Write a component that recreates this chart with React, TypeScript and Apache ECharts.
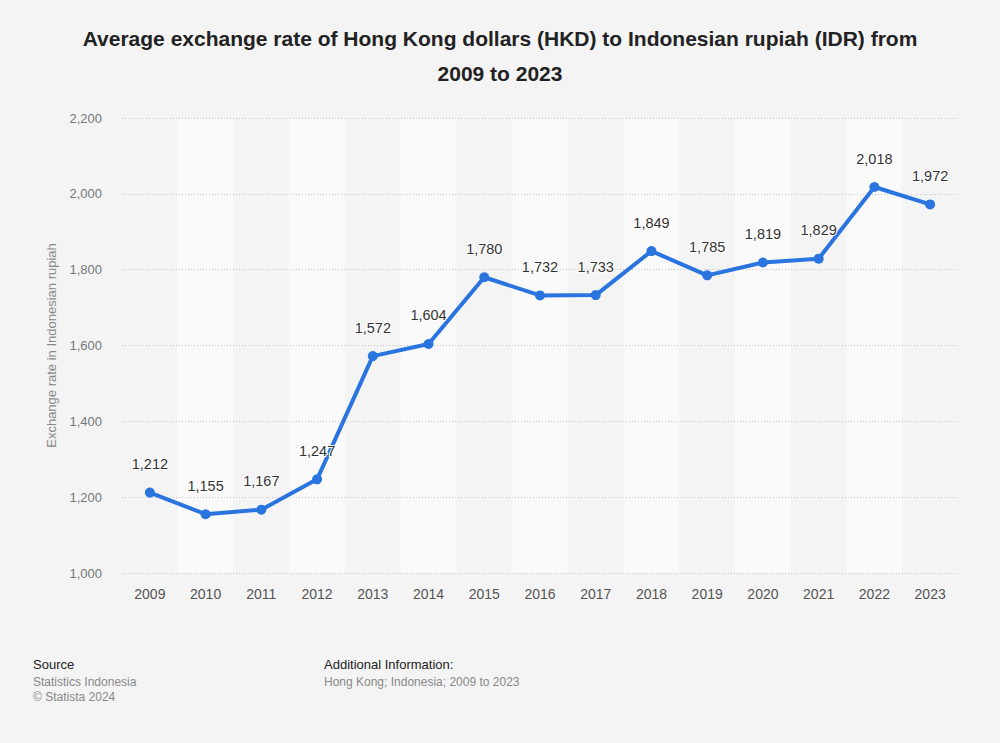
import React, { useEffect, useRef } from "react";
import * as echarts from "echarts";

const years = ["2009","2010","2011","2012","2013","2014","2015","2016","2017","2018","2019","2020","2021","2022","2023"];
const rates = [1212, 1155, 1167, 1247, 1572, 1604, 1780, 1732, 1733, 1849, 1785, 1819, 1829, 2018, 1972];
const titleLines = ["Average exchange rate of Hong Kong dollars (HKD) to Indonesian rupiah (IDR) from", "2009 to 2023"];
const yAxisName = "Exchange rate in Indonesian rupiah";

const FONT = "'Liberation Sans', Arial, sans-serif";

export default function App() {
  const ref = useRef<HTMLDivElement>(null);
  useEffect(() => {
    document.body.style.margin = "0";
    const chart = echarts.init(ref.current!, null, { renderer: "svg" });
    chart.setOption({
      animation: false,
      backgroundColor: "#f4f4f4",
      textStyle: { fontFamily: FONT },
      title: {
        text: titleLines.join("\n"),
        left: "center",
        top: 16,
        textStyle: { fontSize: 21, fontWeight: "bold", color: "#222", lineHeight: 35, fontFamily: FONT },
      },
      grid: { left: 122, right: 42, top: 118, bottom: 170, containLabel: false },
      xAxis: {
        type: "category",
        data: years,
        boundaryGap: true,
        z: 0,
        axisLine: { show: false },
        axisTick: { show: false },
        axisLabel: { color: "#555", fontSize: 14, margin: 14, fontFamily: FONT },
        splitArea: { show: true, areaStyle: { color: ["#f4f4f4", "#fafafa"] } },
      },
      yAxis: {
        type: "value",
        min: 1000,
        max: 2200,
        interval: 200,
        z: 2,
        name: yAxisName,
        nameLocation: "middle",
        nameGap: 64,
        nameTextStyle: { color: "#888", fontSize: 13, fontFamily: FONT },
        axisLine: { show: false },
        axisTick: { show: false },
        axisLabel: {
          color: "#777",
          fontSize: 13,
          margin: 20,
          fontFamily: FONT,
          formatter: (v: number) => v.toLocaleString("en-US"),
        },
        splitLine: { lineStyle: { color: "#c4c4c4", type: [1, 2], width: 1 } },
      },
      series: [
        {
          type: "line",
          z: 3,
          data: rates,
          lineStyle: { color: "#2a74e0", width: 4 },
          itemStyle: { color: "#2a74e0" },
          symbol: "circle",
          symbolSize: 10,
          label: {
            show: true,
            position: "top",
            distance: 16,
            color: "#333",
            fontSize: 14.5,
            fontFamily: FONT,
            textBorderColor: "#ffffff",
            textBorderWidth: 2,
            formatter: (p: any) => Number(p.value).toLocaleString("en-US"),
          },
        },
      ],
      graphic: [
        { type: "text", left: 33, top: 658, style: { text: "Source", fontSize: 13, fill: "#222", fontFamily: FONT } },
        { type: "text", left: 33, top: 676, style: { text: "Statistics Indonesia", fontSize: 12, fill: "#888", fontFamily: FONT } },
        { type: "text", left: 33, top: 691, style: { text: "© Statista 2024", fontSize: 12, fill: "#888", fontFamily: FONT } },
        { type: "text", left: 324, top: 658, style: { text: "Additional Information:", fontSize: 13, fill: "#222", fontFamily: FONT } },
        { type: "text", left: 324, top: 676, style: { text: "Hong Kong; Indonesia; 2009 to 2023", fontSize: 12, fill: "#888", fontFamily: FONT } },
      ],
    });
    return () => chart.dispose();
  }, []);
  return <div ref={ref} style={{ position: "absolute", left: 0, top: 0, width: 1000, height: 743 }} />;
}
